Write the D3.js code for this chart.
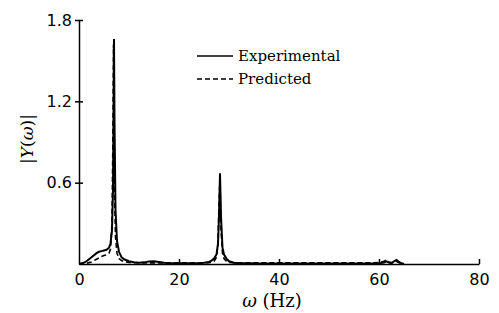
<!DOCTYPE html>
<html>
<head>
<meta charset="utf-8">
<script src="https://cdn.jsdelivr.net/npm/d3@7"></script>
<style>
  body { margin: 0; background: #fff; }
  svg { display: block; }
  .tick text { font-family: "DejaVu Sans", sans-serif; font-size: 16px; fill: #000; }
  .serif { font-family: "DejaVu Serif", serif; fill: #000; }
</style>
</head>
<body>
<svg id="chart" width="499" height="313"></svg>
<script>
// frequency grid (Hz) shared by both curves
const freq = [0, 0.5, 1, 1.5, 2, 2.5, 3, 3.5, 4, 4.5, 5, 5.5, 6, 6.3, 6.6, 6.8, 6.9, 7.0, 7.1, 7.3, 7.6, 8, 8.5, 9,
  10, 11, 12, 13, 14, 15, 16, 17, 18, 20, 22, 24, 25, 26, 26.5, 27, 27.5, 27.8, 28, 28.2, 28.4, 28.7, 29, 29.5,
  30, 31, 32, 34, 36, 38, 40, 45, 50, 55, 58, 60, 61, 61.5, 62, 62.5, 63, 63.5, 64, 64.5, 65];

const experimental = [0, 0.005, 0.01, 0.02, 0.035, 0.05, 0.065, 0.08, 0.09, 0.095, 0.1, 0.105, 0.12, 0.15, 0.25, 0.55, 1.1, 1.66, 1.05, 0.4, 0.17, 0.09, 0.05, 0.035,
  0.02, 0.013, 0.01, 0.012, 0.018, 0.02, 0.015, 0.01, 0.008, 0.006, 0.006, 0.008, 0.01, 0.015, 0.025, 0.04, 0.07, 0.15, 0.35, 0.67, 0.35, 0.12, 0.07, 0.04,
  0.02, 0.01, 0.006, 0.005, 0.004, 0.004, 0.004, 0.004, 0.004, 0.004, 0.004, 0.005, 0.01, 0.02, 0.01, 0.005, 0.02, 0.03, 0.015, 0.005, 0];

const predicted = [0, 0, 0.002, 0.005, 0.01, 0.015, 0.025, 0.035, 0.045, 0.055, 0.062, 0.068, 0.08, 0.11, 0.3, 1.0, 1.62, 1.2, 0.55, 0.2, 0.08, 0.04, 0.025, 0.018,
  0.012, 0.01, 0.009, 0.008, 0.008, 0.008, 0.008, 0.008, 0.008, 0.008, 0.008, 0.008, 0.008, 0.01, 0.014, 0.02, 0.05, 0.15, 0.45, 0.62, 0.25, 0.08, 0.04, 0.02,
  0.012, 0.009, 0.008, 0.008, 0.008, 0.008, 0.008, 0.008, 0.008, 0.008, 0.008, 0.01, 0.02, 0.03, 0.015, 0.01, 0.015, 0.02, 0.01, 0.005, 0];

const xTicks = [0, 20, 40, 60, 80];
const yTicks = [0.6, 1.2, 1.8];
const legendLabels = ['Experimental', 'Predicted'];

const svg = d3.select('#chart');
const x = d3.scaleLinear().domain([0, 80]).range([79, 479]);
const y = d3.scaleLinear().domain([0, 1.8]).range([264, 20]);

const line = d3.line()
  .x(d => x(d[0]))
  .y(d => y(d[1]));

// curves
svg.append('path')
  .datum(freq.map((f, i) => [f, predicted[i]]))
  .attr('d', line)
  .attr('fill', 'none')
  .attr('stroke', '#000')
  .attr('stroke-width', 1.6)
  .attr('stroke-dasharray', '5,3');

svg.append('path')
  .datum(freq.map((f, i) => [f, experimental[i]]))
  .attr('d', line)
  .attr('fill', 'none')
  .attr('stroke', '#000')
  .attr('stroke-width', 2);

// axes
const xAxis = svg.append('g')
  .attr('transform', `translate(0,${y(0)})`)
  .call(d3.axisBottom(x).tickValues(xTicks).tickSizeInner(-5).tickSizeOuter(0).tickPadding(10));

const yAxis = svg.append('g')
  .attr('transform', `translate(${x(0)},0)`)
  .call(d3.axisLeft(y).tickValues(yTicks).tickSizeInner(4).tickSizeOuter(0).tickPadding(3).tickFormat(d3.format('.1f')));

// inward y ticks
svg.append('g')
  .attr('transform', `translate(${x(0)},0)`)
  .call(d3.axisLeft(y).tickValues(yTicks).tickSizeInner(-4).tickSizeOuter(0).tickFormat(''))
  .select('.domain').remove();

svg.selectAll('.domain, .tick line').attr('stroke', '#000').attr('stroke-width', 1.5);
xAxis.select('.tick line').remove();

// axis titles
svg.append('text')
  .attr('class', 'serif')
  .attr('x', 272)
  .attr('y', 307)
  .attr('text-anchor', 'middle')
  .attr('font-size', 18)
  .html('<tspan font-style="italic">ω</tspan> (Hz)');

svg.append('text')
  .attr('class', 'serif')
  .attr('transform', 'translate(33,139) rotate(-90)')
  .attr('text-anchor', 'middle')
  .attr('font-size', 17)
  .html('|<tspan font-style="italic">Y</tspan>(<tspan font-style="italic">ω</tspan>)|');

// legend
const legend = svg.append('g').attr('transform', 'translate(197,56)');
legendLabels.forEach((label, i) => {
  const g = legend.append('g').attr('transform', `translate(0,${i * 23})`);
  g.append('line')
    .attr('x1', 0).attr('x2', 36)
    .attr('stroke', '#000')
    .attr('stroke-width', 1.5)
    .attr('stroke-dasharray', i === 1 ? '5,3' : null);
  g.append('text')
    .attr('class', 'serif')
    .attr('x', 41)
    .attr('y', 5)
    .attr('font-size', 15)
    .text(label);
});
</script>
</body>
</html>
